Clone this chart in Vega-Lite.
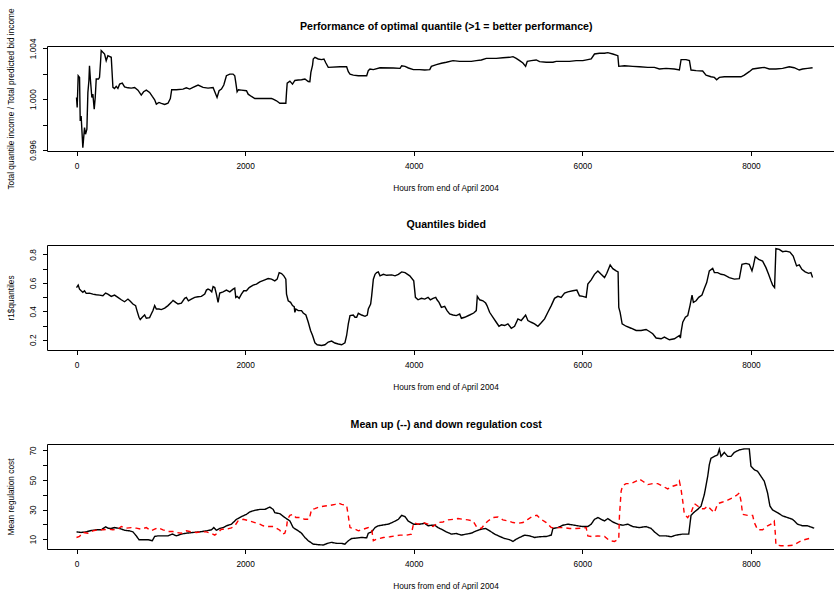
{
"$schema": "https://vega.github.io/schema/vega-lite/v6.json",
"background": "white",
"padding": {"left": 6, "top": 7, "right": 0, "bottom": 0},
"bounds": "flush",
"spacing": 94,
"config": {
 "view": {"stroke": null},
 "font": "Liberation Sans",
 "axis": {"domainColor": "black", "tickColor": "black", "labelColor": "black", "titleColor": "black", "labelFont": "Liberation Sans", "titleFont": "Liberation Sans", "labelFontSize": 8.3, "titleFontSize": 8.3, "titleFontWeight": "normal", "grid": false, "tickSize": 4.5, "domainWidth": 1, "tickWidth": 1, "labelFlush": false, "labelOverlap": false, "labelSeparation": 0, "labelBound": false}
},
"datasets": {
 "p1": [
{"x":0,"y":1.00013},{"x":8,"y":0.99934},{"x":20,"y":1.00184},{"x":36,"y":1.00171},{"x":44,"y":0.99829},{"x":55,"y":0.99868},{"x":75,"y":0.99618},{"x":95,"y":0.99776},{"x":107,"y":0.99724},{"x":123,"y":0.99763},{"x":135,"y":1.00053},{"x":147,"y":1.00145},{"x":154,"y":1.00263},{"x":166,"y":1.00145},{"x":182,"y":1.00013},{"x":194,"y":1.00039},{"x":210,"y":0.99921},{"x":222,"y":1.00013},{"x":234,"y":1.00158},{"x":261,"y":1.00158},{"x":273,"y":1.00171},{"x":285,"y":1.0029},{"x":293,"y":1.00382},{"x":313,"y":1.00368},{"x":333,"y":1.00355},{"x":352,"y":1.00303},{"x":372,"y":1.00342},{"x":412,"y":1.00329},{"x":432,"y":1.00092},{"x":451,"y":1.00084},{"x":471,"y":1.001},{"x":491,"y":1.00084},{"x":511,"y":1.00118},{"x":543,"y":1.00126},{"x":570,"y":1.00097},{"x":610,"y":1.00089},{"x":650,"y":1.00087},{"x":689,"y":1.00092},{"x":729,"y":1.00071},{"x":768,"y":1.00032},{"x":796,"y":1.00058},{"x":828,"y":1.00071},{"x":867,"y":1.00053},{"x":899,"y":1.00021},{"x":927,"y":0.99995},{"x":947,"y":0.99961},{"x":978,"y":0.99974},{"x":1006,"y":0.99966},{"x":1046,"y":0.99958},{"x":1085,"y":0.99968},{"x":1113,"y":1.00005},{"x":1129,"y":1.00074},{"x":1184,"y":1.00074},{"x":1263,"y":1.00079},{"x":1303,"y":1.00089},{"x":1343,"y":1.00079},{"x":1382,"y":1.00092},{"x":1442,"y":1.00111},{"x":1501,"y":1.00092},{"x":1560,"y":1.00087},{"x":1620,"y":1.00092},{"x":1640,"y":1.00058},{"x":1667,"y":1.00013},{"x":1691,"y":1.00066},{"x":1719,"y":1.00079},{"x":1747,"y":1.00111},{"x":1778,"y":1.00184},{"x":1818,"y":1.00197},{"x":1857,"y":1.00197},{"x":1877,"y":1.00184},{"x":1889,"y":1.00132},{"x":1905,"y":1.00058},{"x":1921,"y":1.00074},{"x":1956,"y":1.00071},{"x":2016,"y":1.00066},{"x":2036,"y":1.00039},{"x":2075,"y":1.00021},{"x":2115,"y":1.00005},{"x":2253,"y":1.00005},{"x":2313,"y":1.00005},{"x":2333,"y":1.0},{"x":2372,"y":0.99987},{"x":2412,"y":0.99968},{"x":2483,"y":0.99968},{"x":2491,"y":1.00053},{"x":2499,"y":1.00126},{"x":2531,"y":1.00142},{"x":2562,"y":1.00118},{"x":2590,"y":1.00147},{"x":2630,"y":1.0015},{"x":2669,"y":1.00153},{"x":2709,"y":1.00158},{"x":2749,"y":1.00139},{"x":2768,"y":1.00137},{"x":2780,"y":1.00211},{"x":2800,"y":1.00268},{"x":2808,"y":1.00316},{"x":2828,"y":1.00329},{"x":2867,"y":1.00316},{"x":2907,"y":1.00311},{"x":2935,"y":1.00316},{"x":2958,"y":1.00284},{"x":2986,"y":1.0025},{"x":3125,"y":1.00255},{"x":3204,"y":1.00255},{"x":3224,"y":1.00216},{"x":3244,"y":1.00197},{"x":3283,"y":1.00189},{"x":3343,"y":1.00184},{"x":3442,"y":1.00184},{"x":3461,"y":1.00224},{"x":3481,"y":1.00237},{"x":3521,"y":1.00232},{"x":3600,"y":1.00247},{"x":3758,"y":1.00245},{"x":3838,"y":1.00242},{"x":3857,"y":1.00263},{"x":3897,"y":1.00258},{"x":3937,"y":1.00245},{"x":3996,"y":1.00232},
{"x":4071,"y":1.00232},{"x":4130,"y":1.00229},{"x":4190,"y":1.00232},{"x":4209,"y":1.00258},{"x":4269,"y":1.00271},{"x":4328,"y":1.00282},{"x":4387,"y":1.0029},{"x":4466,"y":1.00303},{"x":4545,"y":1.00297},{"x":4683,"y":1.00297},{"x":4742,"y":1.00303},{"x":4802,"y":1.00308},{"x":4861,"y":1.00321},{"x":4979,"y":1.00321},{"x":5058,"y":1.00326},{"x":5137,"y":1.00329},{"x":5177,"y":1.00334},{"x":5216,"y":1.00321},{"x":5256,"y":1.00303},{"x":5295,"y":1.00284},{"x":5327,"y":1.00258},{"x":5347,"y":1.00297},{"x":5394,"y":1.00303},{"x":5453,"y":1.00308},{"x":5493,"y":1.00295},{"x":5572,"y":1.0029},{"x":5651,"y":1.0029},{"x":5690,"y":1.00297},{"x":5848,"y":1.00297},{"x":5927,"y":1.00303},{"x":6006,"y":1.00303},{"x":6065,"y":1.00311},{"x":6105,"y":1.00316},{"x":6144,"y":1.00355},{"x":6203,"y":1.00361},{"x":6263,"y":1.00361},{"x":6302,"y":1.00366},{"x":6361,"y":1.00355},{"x":6421,"y":1.00342},{"x":6432,"y":1.00258},{"x":6500,"y":1.00263},{"x":6598,"y":1.00258},{"x":6677,"y":1.00255},{"x":6776,"y":1.0025},{"x":6855,"y":1.0025},{"x":6914,"y":1.00237},{"x":6993,"y":1.00242},{"x":7092,"y":1.00237},{"x":7151,"y":1.00229},{"x":7171,"y":1.00311},{"x":7230,"y":1.00311},{"x":7270,"y":1.00303},{"x":7289,"y":1.00229},{"x":7349,"y":1.00224},{"x":7427,"y":1.00221},{"x":7467,"y":1.00189},{"x":7526,"y":1.00176},{"x":7566,"y":1.00171},{"x":7593,"y":1.00153},{"x":7625,"y":1.00171},{"x":7684,"y":1.00176},{"x":7882,"y":1.00176},{"x":7921,"y":1.00189},{"x":7980,"y":1.00216},{"x":8020,"y":1.00237},{"x":8099,"y":1.00245},{"x":8158,"y":1.0025},{"x":8217,"y":1.00237},{"x":8296,"y":1.00237},{"x":8375,"y":1.00242},{"x":8454,"y":1.00255},{"x":8513,"y":1.00247},{"x":8573,"y":1.00229},{"x":8612,"y":1.00237},{"x":8671,"y":1.00242},{"x":8731,"y":1.00247}
 ],
 "p2": [
{"x":0,"y":0.567},{"x":20,"y":0.584},{"x":36,"y":0.556},{"x":55,"y":0.544},{"x":75,"y":0.533},{"x":95,"y":0.544},{"x":115,"y":0.526},{"x":154,"y":0.528},{"x":194,"y":0.521},{"x":234,"y":0.516},{"x":273,"y":0.514},{"x":313,"y":0.509},{"x":345,"y":0.528},{"x":372,"y":0.521},{"x":412,"y":0.505},{"x":451,"y":0.514},{"x":491,"y":0.498},{"x":531,"y":0.481},{"x":570,"y":0.467},{"x":610,"y":0.486},{"x":638,"y":0.47},{"x":669,"y":0.451},{"x":701,"y":0.44},{"x":717,"y":0.405},{"x":741,"y":0.358},{"x":756,"y":0.342},{"x":780,"y":0.358},{"x":808,"y":0.374},{"x":828,"y":0.351},{"x":867,"y":0.356},{"x":887,"y":0.381},{"x":907,"y":0.405},{"x":927,"y":0.44},{"x":947,"y":0.416},{"x":978,"y":0.416},{"x":1006,"y":0.412},{"x":1046,"y":0.423},{"x":1085,"y":0.44},{"x":1125,"y":0.463},{"x":1145,"y":0.477},{"x":1176,"y":0.463},{"x":1204,"y":0.451},{"x":1244,"y":0.458},{"x":1283,"y":0.491},{"x":1303,"y":0.498},{"x":1327,"y":0.474},{"x":1362,"y":0.486},{"x":1402,"y":0.498},{"x":1442,"y":0.502},{"x":1481,"y":0.505},{"x":1521,"y":0.521},{"x":1541,"y":0.549},{"x":1560,"y":0.556},{"x":1580,"y":0.551},{"x":1604,"y":0.537},{"x":1620,"y":0.574},{"x":1640,"y":0.567},{"x":1659,"y":0.521},{"x":1679,"y":0.463},{"x":1699,"y":0.528},{"x":1739,"y":0.537},{"x":1778,"y":0.549},{"x":1818,"y":0.537},{"x":1857,"y":0.556},{"x":1877,"y":0.563},{"x":1889,"y":0.498},{"x":1905,"y":0.505},{"x":1929,"y":0.491},{"x":1956,"y":0.521},{"x":1984,"y":0.544},{"x":2016,"y":0.544},{"x":2048,"y":0.567},{"x":2095,"y":0.584},{"x":2135,"y":0.591},{"x":2174,"y":0.607},{"x":2234,"y":0.621},{"x":2273,"y":0.63},{"x":2313,"y":0.626},{"x":2352,"y":0.614},{"x":2380,"y":0.626},{"x":2404,"y":0.672},{"x":2432,"y":0.665},{"x":2459,"y":0.649},{"x":2483,"y":0.626},{"x":2491,"y":0.521},{"x":2511,"y":0.474},{"x":2539,"y":0.463},{"x":2562,"y":0.44},{"x":2582,"y":0.433},{"x":2590,"y":0.393},{"x":2602,"y":0.416},{"x":2630,"y":0.405},{"x":2669,"y":0.405},{"x":2689,"y":0.388},{"x":2721,"y":0.374},{"x":2749,"y":0.323},{"x":2776,"y":0.265},{"x":2800,"y":0.23},{"x":2828,"y":0.179},{"x":2855,"y":0.165},{"x":2907,"y":0.16},{"x":2947,"y":0.165},{"x":2986,"y":0.184},{"x":3026,"y":0.191},{"x":3065,"y":0.177},{"x":3105,"y":0.17},{"x":3145,"y":0.165},{"x":3184,"y":0.179},{"x":3204,"y":0.23},{"x":3224,"y":0.312},{"x":3244,"y":0.37},{"x":3283,"y":0.374},{"x":3303,"y":0.358},{"x":3323,"y":0.358},{"x":3343,"y":0.386},{"x":3382,"y":0.374},{"x":3422,"y":0.365},{"x":3449,"y":0.374},{"x":3461,"y":0.416},{"x":3489,"y":0.451},{"x":3501,"y":0.509},{"x":3521,"y":0.626},{"x":3541,"y":0.66},{"x":3560,"y":0.672},{"x":3580,"y":0.677},{"x":3600,"y":0.649},{"x":3640,"y":0.66},{"x":3679,"y":0.653},{"x":3739,"y":0.656},{"x":3778,"y":0.649},{"x":3818,"y":0.66},{"x":3857,"y":0.677},{"x":3897,"y":0.672},{"x":3953,"y":0.649},{"x":4000,"y":0.614},{"x":4020,"y":0.498},{"x":4051,"y":0.481},{"x":4091,"y":0.491},{"x":4130,"y":0.486},{"x":4170,"y":0.498},{"x":4197,"y":0.481},{"x":4229,"y":0.491},{"x":4261,"y":0.498},{"x":4276,"y":0.481},{"x":4300,"y":0.463},{"x":4328,"y":0.428},{"x":4367,"y":0.435},{"x":4395,"y":0.405},{"x":4426,"y":0.381},{"x":4466,"y":0.374},{"x":4505,"y":0.37},{"x":4545,"y":0.381},{"x":4565,"y":0.351},{"x":4604,"y":0.358},{"x":4663,"y":0.374},{"x":4711,"y":0.388},{"x":4742,"y":0.405},{"x":4754,"y":0.505},{"x":4782,"y":0.481},{"x":4821,"y":0.474},{"x":4853,"y":0.458},{"x":4869,"y":0.44},{"x":4900,"y":0.393},{"x":4940,"y":0.358},{"x":4979,"y":0.323},{"x":5011,"y":0.295},{"x":5039,"y":0.305},{"x":5078,"y":0.3},{"x":5117,"y":0.312},{"x":5157,"y":0.281},{"x":5196,"y":0.295},{"x":5236,"y":0.347},{"x":5275,"y":0.335},{"x":5327,"y":0.374},{"x":5354,"y":0.335},{"x":5394,"y":0.323},{"x":5433,"y":0.312},{"x":5473,"y":0.295},{"x":5512,"y":0.319},{"x":5552,"y":0.347},{"x":5591,"y":0.393},{"x":5631,"y":0.44},{"x":5670,"y":0.491},{"x":5710,"y":0.505},{"x":5749,"y":0.498},{"x":5789,"y":0.528},{"x":5828,"y":0.537},{"x":5887,"y":0.544},{"x":5935,"y":0.549},{"x":5966,"y":0.509},{"x":6006,"y":0.505},{"x":6045,"y":0.498},{"x":6065,"y":0.591},{"x":6105,"y":0.621},{"x":6144,"y":0.66},{"x":6184,"y":0.684},{"x":6223,"y":0.66},{"x":6263,"y":0.637},{"x":6290,"y":0.667},{"x":6330,"y":0.726},{"x":6361,"y":0.7},{"x":6401,"y":0.684},{"x":6424,"y":0.677},{"x":6432,"y":0.428},{"x":6448,"y":0.393},{"x":6472,"y":0.312},{"x":6519,"y":0.295},{"x":6578,"y":0.281},{"x":6638,"y":0.265},{"x":6697,"y":0.265},{"x":6756,"y":0.272},{"x":6796,"y":0.258},{"x":6835,"y":0.242},{"x":6875,"y":0.212},{"x":6934,"y":0.207},{"x":6973,"y":0.219},{"x":7033,"y":0.2},{"x":7092,"y":0.207},{"x":7151,"y":0.23},{"x":7163,"y":0.212},{"x":7171,"y":0.253},{"x":7191,"y":0.323},{"x":7222,"y":0.358},{"x":7250,"y":0.37},{"x":7277,"y":0.44},{"x":7301,"y":0.514},{"x":7317,"y":0.463},{"x":7349,"y":0.474},{"x":7380,"y":0.498},{"x":7419,"y":0.514},{"x":7447,"y":0.56},{"x":7475,"y":0.602},{"x":7506,"y":0.684},{"x":7546,"y":0.702},{"x":7566,"y":0.672},{"x":7605,"y":0.672},{"x":7645,"y":0.66},{"x":7684,"y":0.656},{"x":7743,"y":0.637},{"x":7803,"y":0.626},{"x":7862,"y":0.63},{"x":7893,"y":0.73},{"x":7941,"y":0.737},{"x":7980,"y":0.73},{"x":8012,"y":0.684},{"x":8028,"y":0.719},{"x":8051,"y":0.784},{"x":8091,"y":0.765},{"x":8138,"y":0.753},{"x":8178,"y":0.707},{"x":8209,"y":0.66},{"x":8237,"y":0.614},{"x":8257,"y":0.584},{"x":8280,"y":0.567},{"x":8296,"y":0.84},{"x":8336,"y":0.835},{"x":8375,"y":0.819},{"x":8415,"y":0.823},{"x":8462,"y":0.816},{"x":8501,"y":0.788},{"x":8541,"y":0.719},{"x":8573,"y":0.726},{"x":8604,"y":0.695},{"x":8643,"y":0.677},{"x":8683,"y":0.667},{"x":8711,"y":0.672},{"x":8731,"y":0.637}
 ],
 "p3": [
{"s":"down","x":0,"y":14.9},{"s":"down","x":55,"y":14.5},{"s":"down","x":115,"y":14.9},{"s":"down","x":174,"y":15.8},{"s":"down","x":234,"y":16.3},{"s":"down","x":293,"y":16.3},{"s":"down","x":345,"y":18.3},{"s":"down","x":372,"y":17.4},{"s":"down","x":412,"y":17.2},{"s":"down","x":451,"y":17.8},{"s":"down","x":511,"y":17.2},{"s":"down","x":570,"y":16.0},{"s":"down","x":630,"y":15.6},{"s":"down","x":669,"y":14.9},{"s":"down","x":709,"y":12.2},{"s":"down","x":741,"y":9.6},{"s":"down","x":788,"y":9.6},{"s":"down","x":847,"y":9.6},{"s":"down","x":899,"y":8.9},{"s":"down","x":927,"y":11.8},{"s":"down","x":966,"y":12.2},{"s":"down","x":1026,"y":12.2},{"s":"down","x":1085,"y":12.2},{"s":"down","x":1137,"y":13.4},{"s":"down","x":1184,"y":12.2},{"s":"down","x":1244,"y":13.4},{"s":"down","x":1303,"y":14.0},{"s":"down","x":1382,"y":14.5},{"s":"down","x":1461,"y":14.9},{"s":"down","x":1541,"y":15.6},{"s":"down","x":1600,"y":16.3},{"s":"down","x":1628,"y":17.8},{"s":"down","x":1659,"y":16.0},{"s":"down","x":1699,"y":17.2},{"s":"down","x":1739,"y":17.8},{"s":"down","x":1778,"y":19.0},{"s":"down","x":1838,"y":20.1},{"s":"down","x":1897,"y":23.4},{"s":"down","x":1956,"y":25.2},{"s":"down","x":2016,"y":26.8},{"s":"down","x":2055,"y":28.4},{"s":"down","x":2115,"y":29.5},{"s":"down","x":2174,"y":30.1},{"s":"down","x":2234,"y":30.1},{"s":"down","x":2293,"y":31.7},{"s":"down","x":2333,"y":30.1},{"s":"down","x":2352,"y":27.9},{"s":"down","x":2412,"y":27.2},{"s":"down","x":2471,"y":24.6},{"s":"down","x":2531,"y":22.3},{"s":"down","x":2570,"y":17.8},{"s":"down","x":2630,"y":15.6},{"s":"down","x":2669,"y":14.0},{"s":"down","x":2709,"y":11.1},{"s":"down","x":2749,"y":8.9},{"s":"down","x":2808,"y":6.6},{"s":"down","x":2867,"y":6.2},{"s":"down","x":2927,"y":6.0},{"s":"down","x":2986,"y":7.3},{"s":"down","x":3026,"y":7.8},{"s":"down","x":3085,"y":7.1},{"s":"down","x":3145,"y":7.1},{"s":"down","x":3184,"y":6.6},{"s":"down","x":3224,"y":8.9},{"s":"down","x":3264,"y":10.4},{"s":"down","x":3323,"y":10.7},{"s":"down","x":3382,"y":11.1},{"s":"down","x":3442,"y":10.9},{"s":"down","x":3461,"y":14.0},{"s":"down","x":3501,"y":14.9},{"s":"down","x":3541,"y":17.8},{"s":"down","x":3580,"y":19.0},{"s":"down","x":3640,"y":19.6},{"s":"down","x":3699,"y":20.1},{"s":"down","x":3758,"y":21.6},{"s":"down","x":3818,"y":23.4},{"s":"down","x":3857,"y":26.1},{"s":"down","x":3897,"y":25.2},{"s":"down","x":3933,"y":22.3},{"s":"down","x":4000,"y":20.1},{"s":"down","x":4071,"y":20.1},{"s":"down","x":4130,"y":20.7},{"s":"down","x":4170,"y":19.0},{"s":"down","x":4209,"y":19.4},{"s":"down","x":4249,"y":19.4},{"s":"down","x":4288,"y":17.8},{"s":"down","x":4328,"y":16.7},{"s":"down","x":4387,"y":14.9},{"s":"down","x":4446,"y":13.4},{"s":"down","x":4505,"y":13.8},{"s":"down","x":4565,"y":12.7},{"s":"down","x":4624,"y":13.4},{"s":"down","x":4683,"y":14.0},{"s":"down","x":4742,"y":15.6},{"s":"down","x":4802,"y":16.7},{"s":"down","x":4853,"y":17.2},{"s":"down","x":4900,"y":15.6},{"s":"down","x":4960,"y":13.4},{"s":"down","x":5019,"y":11.8},{"s":"down","x":5078,"y":10.4},{"s":"down","x":5137,"y":9.6},{"s":"down","x":5177,"y":8.4},{"s":"down","x":5216,"y":10.0},{"s":"down","x":5256,"y":11.1},{"s":"down","x":5315,"y":12.7},{"s":"down","x":5374,"y":12.2},{"s":"down","x":5433,"y":11.1},{"s":"down","x":5493,"y":11.6},{"s":"down","x":5572,"y":11.8},{"s":"down","x":5631,"y":12.7},{"s":"down","x":5651,"y":17.2},{"s":"down","x":5710,"y":17.8},{"s":"down","x":5769,"y":19.4},{"s":"down","x":5828,"y":20.1},{"s":"down","x":5887,"y":19.6},{"s":"down","x":5946,"y":19.0},{"s":"down","x":6006,"y":18.5},{"s":"down","x":6065,"y":18.5},{"s":"down","x":6105,"y":20.1},{"s":"down","x":6144,"y":23.4},{"s":"down","x":6184,"y":24.6},{"s":"down","x":6223,"y":23.4},{"s":"down","x":6263,"y":22.3},{"s":"down","x":6302,"y":23.9},{"s":"down","x":6361,"y":21.6},{"s":"down","x":6421,"y":20.1},{"s":"down","x":6479,"y":19.4},{"s":"down","x":6539,"y":20.1},{"s":"down","x":6598,"y":18.5},{"s":"down","x":6677,"y":17.8},{"s":"down","x":6756,"y":18.5},{"s":"down","x":6816,"y":17.2},{"s":"down","x":6855,"y":14.9},{"s":"down","x":6914,"y":12.2},{"s":"down","x":6993,"y":12.2},{"s":"down","x":7052,"y":11.6},{"s":"down","x":7111,"y":12.7},{"s":"down","x":7191,"y":13.4},{"s":"down","x":7262,"y":13.4},{"s":"down","x":7289,"y":26.1},{"s":"down","x":7329,"y":28.4},{"s":"down","x":7368,"y":30.1},{"s":"down","x":7408,"y":32.4},{"s":"down","x":7447,"y":40.2},{"s":"down","x":7487,"y":52.5},{"s":"down","x":7506,"y":60.4},{"s":"down","x":7526,"y":64.8},{"s":"down","x":7566,"y":66.0},{"s":"down","x":7605,"y":67.1},{"s":"down","x":7625,"y":70.9},{"s":"down","x":7645,"y":66.0},{"s":"down","x":7684,"y":68.7},{"s":"down","x":7724,"y":66.0},{"s":"down","x":7763,"y":66.0},{"s":"down","x":7803,"y":68.7},{"s":"down","x":7862,"y":70.4},{"s":"down","x":7921,"y":71.1},{"s":"down","x":7980,"y":71.1},{"s":"down","x":8000,"y":59.3},{"s":"down","x":8040,"y":57.0},{"s":"down","x":8079,"y":55.9},{"s":"down","x":8119,"y":52.5},{"s":"down","x":8158,"y":49.2},{"s":"down","x":8197,"y":41.3},{"s":"down","x":8225,"y":32.4},{"s":"down","x":8257,"y":29.7},{"s":"down","x":8316,"y":27.9},{"s":"down","x":8375,"y":25.7},{"s":"down","x":8434,"y":24.6},{"s":"down","x":8494,"y":23.4},{"s":"down","x":8553,"y":20.1},{"s":"down","x":8612,"y":19.0},{"s":"down","x":8671,"y":19.0},{"s":"down","x":8750,"y":17.4},
{"s":"up","x":0,"y":11.1},{"s":"up","x":36,"y":11.8},{"s":"up","x":75,"y":14.5},{"s":"up","x":135,"y":14.0},{"s":"up","x":194,"y":15.6},{"s":"up","x":254,"y":16.3},{"s":"up","x":313,"y":16.3},{"s":"up","x":372,"y":16.7},{"s":"up","x":432,"y":16.3},{"s":"up","x":491,"y":16.7},{"s":"up","x":531,"y":18.5},{"s":"up","x":590,"y":17.4},{"s":"up","x":650,"y":17.8},{"s":"up","x":709,"y":17.4},{"s":"up","x":768,"y":16.7},{"s":"up","x":828,"y":17.8},{"s":"up","x":887,"y":15.6},{"s":"up","x":927,"y":16.7},{"s":"up","x":966,"y":17.8},{"s":"up","x":1026,"y":16.3},{"s":"up","x":1085,"y":15.1},{"s":"up","x":1145,"y":15.1},{"s":"up","x":1184,"y":14.5},{"s":"up","x":1244,"y":14.0},{"s":"up","x":1303,"y":15.6},{"s":"up","x":1362,"y":14.9},{"s":"up","x":1422,"y":14.5},{"s":"up","x":1481,"y":14.9},{"s":"up","x":1541,"y":14.9},{"s":"up","x":1600,"y":13.8},{"s":"up","x":1640,"y":12.7},{"s":"up","x":1679,"y":14.5},{"s":"up","x":1719,"y":16.7},{"s":"up","x":1778,"y":16.7},{"s":"up","x":1838,"y":17.6},{"s":"up","x":1877,"y":19.0},{"s":"up","x":1917,"y":22.3},{"s":"up","x":1976,"y":23.4},{"s":"up","x":2055,"y":22.3},{"s":"up","x":2115,"y":21.2},{"s":"up","x":2174,"y":20.1},{"s":"up","x":2214,"y":19.0},{"s":"up","x":2273,"y":18.5},{"s":"up","x":2333,"y":18.5},{"s":"up","x":2372,"y":17.4},{"s":"up","x":2412,"y":16.0},{"s":"up","x":2444,"y":13.4},{"s":"up","x":2471,"y":14.0},{"s":"up","x":2491,"y":17.8},{"s":"up","x":2503,"y":23.4},{"s":"up","x":2531,"y":26.1},{"s":"up","x":2570,"y":26.8},{"s":"up","x":2602,"y":24.6},{"s":"up","x":2650,"y":24.6},{"s":"up","x":2709,"y":23.4},{"s":"up","x":2760,"y":23.4},{"s":"up","x":2788,"y":30.1},{"s":"up","x":2828,"y":30.6},{"s":"up","x":2887,"y":31.9},{"s":"up","x":2947,"y":32.4},{"s":"up","x":3006,"y":32.8},{"s":"up","x":3065,"y":33.5},{"s":"up","x":3105,"y":34.6},{"s":"up","x":3145,"y":33.5},{"s":"up","x":3204,"y":32.8},{"s":"up","x":3224,"y":25.7},{"s":"up","x":3244,"y":17.8},{"s":"up","x":3303,"y":16.7},{"s":"up","x":3343,"y":15.6},{"s":"up","x":3402,"y":16.7},{"s":"up","x":3461,"y":17.8},{"s":"up","x":3501,"y":16.7},{"s":"up","x":3521,"y":8.9},{"s":"up","x":3560,"y":10.0},{"s":"up","x":3640,"y":11.1},{"s":"up","x":3719,"y":11.6},{"s":"up","x":3778,"y":12.2},{"s":"up","x":3838,"y":12.7},{"s":"up","x":3913,"y":12.7},{"s":"up","x":3972,"y":13.4},{"s":"up","x":4000,"y":21.2},{"s":"up","x":4051,"y":20.1},{"s":"up","x":4111,"y":21.2},{"s":"up","x":4170,"y":20.1},{"s":"up","x":4229,"y":18.5},{"s":"up","x":4288,"y":21.2},{"s":"up","x":4347,"y":21.6},{"s":"up","x":4407,"y":23.0},{"s":"up","x":4466,"y":23.4},{"s":"up","x":4525,"y":23.9},{"s":"up","x":4584,"y":23.4},{"s":"up","x":4643,"y":23.0},{"s":"up","x":4703,"y":22.3},{"s":"up","x":4750,"y":17.8},{"s":"up","x":4802,"y":17.2},{"s":"up","x":4841,"y":20.1},{"s":"up","x":4881,"y":22.3},{"s":"up","x":4940,"y":24.6},{"s":"up","x":4999,"y":25.0},{"s":"up","x":5058,"y":23.0},{"s":"up","x":5117,"y":22.3},{"s":"up","x":5177,"y":21.2},{"s":"up","x":5236,"y":20.7},{"s":"up","x":5295,"y":21.2},{"s":"up","x":5354,"y":23.4},{"s":"up","x":5413,"y":25.7},{"s":"up","x":5461,"y":26.1},{"s":"up","x":5512,"y":23.4},{"s":"up","x":5572,"y":21.2},{"s":"up","x":5631,"y":17.8},{"s":"up","x":5690,"y":17.8},{"s":"up","x":5769,"y":17.8},{"s":"up","x":5848,"y":17.2},{"s":"up","x":5927,"y":17.2},{"s":"up","x":6006,"y":17.4},{"s":"up","x":6045,"y":17.8},{"s":"up","x":6065,"y":12.2},{"s":"up","x":6124,"y":11.6},{"s":"up","x":6184,"y":12.2},{"s":"up","x":6263,"y":11.8},{"s":"up","x":6322,"y":8.9},{"s":"up","x":6381,"y":8.4},{"s":"up","x":6432,"y":10.0},{"s":"up","x":6440,"y":25.7},{"s":"up","x":6460,"y":42.5},{"s":"up","x":6479,"y":46.3},{"s":"up","x":6519,"y":47.6},{"s":"up","x":6578,"y":47.6},{"s":"up","x":6638,"y":49.2},{"s":"up","x":6677,"y":50.7},{"s":"up","x":6717,"y":49.2},{"s":"up","x":6776,"y":46.9},{"s":"up","x":6835,"y":47.6},{"s":"up","x":6895,"y":47.6},{"s":"up","x":6954,"y":45.8},{"s":"up","x":7013,"y":44.0},{"s":"up","x":7072,"y":45.8},{"s":"up","x":7131,"y":46.9},{"s":"up","x":7151,"y":49.2},{"s":"up","x":7171,"y":43.6},{"s":"up","x":7191,"y":35.7},{"s":"up","x":7210,"y":26.8},{"s":"up","x":7250,"y":24.6},{"s":"up","x":7289,"y":27.9},{"s":"up","x":7329,"y":34.0},{"s":"up","x":7368,"y":32.4},{"s":"up","x":7408,"y":30.6},{"s":"up","x":7447,"y":30.6},{"s":"up","x":7487,"y":32.4},{"s":"up","x":7526,"y":30.1},{"s":"up","x":7566,"y":27.9},{"s":"up","x":7605,"y":34.0},{"s":"up","x":7664,"y":35.1},{"s":"up","x":7724,"y":36.4},{"s":"up","x":7783,"y":38.0},{"s":"up","x":7842,"y":40.2},{"s":"up","x":7862,"y":41.3},{"s":"up","x":7882,"y":35.7},{"s":"up","x":7901,"y":26.8},{"s":"up","x":7960,"y":26.1},{"s":"up","x":8020,"y":26.1},{"s":"up","x":8040,"y":21.2},{"s":"up","x":8079,"y":16.3},{"s":"up","x":8138,"y":16.3},{"s":"up","x":8197,"y":19.0},{"s":"up","x":8237,"y":20.1},{"s":"up","x":8276,"y":22.3},{"s":"up","x":8288,"y":14.5},{"s":"up","x":8296,"y":6.0},{"s":"up","x":8355,"y":5.5},{"s":"up","x":8434,"y":5.5},{"s":"up","x":8513,"y":6.0},{"s":"up","x":8573,"y":8.2},{"s":"up","x":8632,"y":9.6},{"s":"up","x":8691,"y":10.4},{"s":"up","x":8731,"y":9.3}
 ]
},
"vconcat": [
 {
  "width": 786.5, "height": 105,
  "data": {"name": "p1"},
  "resolve": {"axis": {"x": "independent"}},
  "layer": [
   {"mark": {"type": "line", "color": "black", "strokeWidth": 1.4, "clip": true},
    "encoding": {
     "x": {"field": "x", "type": "quantitative", "scale": {"domain": [-350, 8979], "nice": false, "zero": false},
      "axis": {"orient": "bottom", "values": [0, 2000, 4000, 6000, 8000], "format": "d", "labelPadding": 6, "labelOverlap": false, "title": "Hours from end of April 2004", "titleX": 398.5, "titleY": 37, "titleBaseline": "middle", "titleAlign": "center"}},
     "y": {"field": "y", "type": "quantitative", "scale": {"domain": [0.99592, 1.00418], "nice": false, "zero": false},
      "axis": {"values": [0.996, 0.998, 1.0, 1.002, 1.004], "labelExpr": "datum.value == 0.998 || datum.value == 1.002 ? '' : format(datum.value, '.3f')", "labelOverlap": false, "labelAngle": 270, "labelAlign": "center", "labelBaseline": "bottom", "labelPadding": 5, "title": "Total quantile income / Total predicted bid income", "titleX": -35.5, "titleAngle": 270, "titleBaseline": "middle", "titleAlign": "center"}}
    }},
   {"mark": {"type": "line", "strokeOpacity": 0},
    "encoding": {
     "x": {"field": "x", "type": "quantitative", "axis": {"orient": "top", "labels": false, "ticks": false, "title": "Performance of optimal quantile (>1 = better performance)", "titleFontSize": 10.6, "titleFontWeight": "bold", "titleX": 398.75, "titleY": -20, "titleBaseline": "middle", "titleAlign": "center"}}
    }}
  ]
 },
 {
  "width": 786.5, "height": 105,
  "data": {"name": "p2"},
  "resolve": {"axis": {"x": "independent"}},
  "layer": [
   {"mark": {"type": "line", "color": "black", "strokeWidth": 1.4, "clip": true},
    "encoding": {
     "x": {"field": "x", "type": "quantitative", "scale": {"domain": [-350, 8979], "nice": false, "zero": false},
      "axis": {"orient": "bottom", "values": [0, 2000, 4000, 6000, 8000], "format": "d", "labelPadding": 6, "labelOverlap": false, "title": "Hours from end of April 2004", "titleX": 398.5, "titleY": 37, "titleBaseline": "middle", "titleAlign": "center"}},
     "y": {"field": "y", "type": "quantitative", "scale": {"domain": [0.128, 0.866], "nice": false, "zero": false},
      "axis": {"values": [0.2, 0.3, 0.4, 0.5, 0.6, 0.7, 0.8], "labelExpr": "round(datum.value * 10) % 2 == 0 ? format(datum.value, '.1f') : ''", "labelOverlap": false, "labelAngle": 270, "labelAlign": "center", "labelBaseline": "bottom", "labelPadding": 5, "title": "r1$quantiles", "titleX": -35.5, "titleAngle": 270, "titleBaseline": "middle", "titleAlign": "center"}}
    }},
   {"mark": {"type": "line", "strokeOpacity": 0},
    "encoding": {
     "x": {"field": "x", "type": "quantitative", "axis": {"orient": "top", "labels": false, "ticks": false, "title": "Quantiles bided", "titleFontSize": 10.6, "titleFontWeight": "bold", "titleX": 398.75, "titleY": -20.3, "titleBaseline": "middle", "titleAlign": "center"}}
    }}
  ]
 },
 {
  "width": 786.5, "height": 105,
  "data": {"name": "p3"},
  "resolve": {"axis": {"x": "independent"}},
  "layer": [
   {"mark": {"type": "line", "strokeWidth": 1.4, "clip": true},
    "encoding": {
     "x": {"field": "x", "type": "quantitative", "scale": {"domain": [-350, 8979], "nice": false, "zero": false},
      "axis": {"orient": "bottom", "values": [0, 2000, 4000, 6000, 8000], "format": "d", "labelPadding": 6, "labelOverlap": false, "title": "Hours from end of April 2004", "titleX": 398.5, "titleY": 37, "titleBaseline": "middle", "titleAlign": "center"}},
     "y": {"field": "y", "type": "quantitative", "scale": {"domain": [3.3, 74.4], "nice": false, "zero": false},
      "axis": {"values": [10, 20, 30, 40, 50, 60, 70], "labelExpr": "(datum.value / 10) % 2 == 1 ? datum.value : ''", "labelOverlap": false, "labelAngle": 270, "labelAlign": "center", "labelBaseline": "bottom", "labelPadding": 5, "title": "Mean regulation cost", "titleX": -35.5, "titleAngle": 270, "titleBaseline": "middle", "titleAlign": "center"}},
     "color": {"field": "s", "type": "nominal", "scale": {"domain": ["down", "up"], "range": ["black", "#ff0000"]}, "legend": null},
     "strokeDash": {"field": "s", "type": "nominal", "scale": {"domain": ["down", "up"], "range": [[1, 0], [5, 4]]}, "legend": null}
    }},
   {"mark": {"type": "line", "strokeOpacity": 0},
    "encoding": {
     "x": {"field": "x", "type": "quantitative", "axis": {"orient": "top", "labels": false, "ticks": false, "title": "Mean up (--) and down regulation cost", "titleFontSize": 10.6, "titleFontWeight": "bold", "titleX": 398.75, "titleY": -19.5, "titleBaseline": "middle", "titleAlign": "center"}},
     "detail": {"field": "s", "type": "nominal"}
    }}
  ]
 }
]
}
